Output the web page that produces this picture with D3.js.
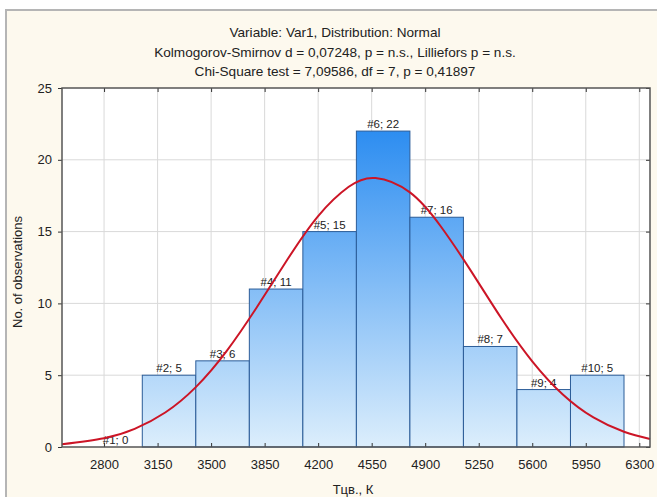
<!DOCTYPE html>
<meta charset="utf-8">

<head>
  <title>Histogram Var1</title>
  <style>
    body {
      margin: 0;
      background: #ffffff;
    }
    svg text {
      font-family: "Liberation Sans", Arial, sans-serif;
      fill: #222;
    }
  </style>

  <script src="https://d3js.org/d3.v7.min.js"></script>
</head>

<body>
  <div id="content">
    <svg width="657" height="497"></svg>
  </div>

  <script>
    // data
    var titleLines = [
      'Variable: Var1, Distribution: Normal',
      'Kolmogorov-Smirnov d = 0,07248, p = n.s., Lilliefors p = n.s.',
      'Chi-Square test = 7,09586, df = 7, p = 0,41897'
    ];
    var binEdges = [2700, 3050, 3400, 3750, 4100, 4450, 4800, 5150, 5500, 5850, 6200];
    var counts = [0, 5, 6, 11, 15, 22, 16, 7, 4, 5];
    var xTicks = [2800, 3150, 3500, 3850, 4200, 4550, 4900, 5250, 5600, 5950, 6300];
    var yTicks = [0, 5, 10, 15, 20, 25];
    // expected normal curve, points estimated from the red line
    var curveX = [2525, 2800, 3000, 3200, 3400, 3600, 3800, 4000, 4200, 4400, 4575,
      4800, 5000, 5200, 5400, 5600, 5800, 6000, 6200, 6370];
    var curveY = [0.19, 0.61, 1.26, 2.40, 4.17, 6.66, 9.75, 13.07, 16.08, 18.12, 18.73,
      17.73, 15.39, 12.25, 8.93, 5.97, 3.66, 2.06, 1.06, 0.56];
    var xLabel = 'Tцв., К';
    var yLabel = 'No. of observations';

    var svg = d3.select('#content svg');
    var pLeft = 62, pTop = 88, pRight = 650, pBottom = 447;

    var x = d3.scaleLinear().domain([2525, 6370]).range([pLeft, pRight]);
    var y = d3.scaleLinear().domain([0, 25]).range([pBottom, pTop]);

    // gradient for bars, spans the whole plot height
    var grad = svg.append('defs').append('linearGradient')
      .attr('id', 'barGrad')
      .attr('gradientUnits', 'userSpaceOnUse')
      .attr('x1', 0).attr('x2', 0)
      .attr('y1', pTop).attr('y2', pBottom);
    grad.append('stop').attr('offset', '0%').attr('stop-color', '#1580ef');
    grad.append('stop').attr('offset', '100%').attr('stop-color', '#dceefc');

    // panel
    svg.append('rect')
      .attr('x', 6).attr('y', 10)
      .attr('width', 670).attr('height', 500)
      .attr('fill', '#fdf9ee')
      .attr('stroke', '#b5b5b5')
      .attr('stroke-width', 2);

    // plot area
    svg.append('rect')
      .attr('x', pLeft).attr('y', pTop)
      .attr('width', pRight - pLeft).attr('height', pBottom - pTop)
      .attr('fill', '#ffffff');

    // grid
    svg.append('g').selectAll('line')
      .data(xTicks)
      .join('line')
      .attr('x1', d => x(d)).attr('x2', d => x(d))
      .attr('y1', pTop).attr('y2', pBottom)
      .attr('stroke', '#d9d9d9');
    svg.append('g').selectAll('line')
      .data(yTicks.slice(1, -1))
      .join('line')
      .attr('x1', pLeft).attr('x2', pRight)
      .attr('y1', d => y(d)).attr('y2', d => y(d))
      .attr('stroke', '#d9d9d9');

    // bars
    var bins = counts.map(function (c, i) {
      return { i: i, n: c, x0: binEdges[i], x1: binEdges[i + 1] };
    });
    svg.append('g').selectAll('rect')
      .data(bins.filter(d => d.n > 0))
      .join('rect')
      .attr('x', d => x(d.x0))
      .attr('y', d => y(d.n))
      .attr('width', d => x(d.x1) - x(d.x0))
      .attr('height', d => y(0) - y(d.n))
      .attr('fill', 'url(#barGrad)')
      .attr('stroke', '#2b5c98')
      .attr('stroke-width', 1);

    svg.append('g').selectAll('text')
      .data(bins)
      .join('text')
      .attr('x', d => x((d.x0 + d.x1) / 2))
      .attr('y', d => y(d.n) - 3)
      .attr('text-anchor', 'middle')
      .style('font-size', '11.5px')
      .text(d => '#' + (d.i + 1) + '; ' + d.n);

    // normal curve
    var line = d3.line()
      .x(d => x(d[0]))
      .y(d => y(d[1]))
      .curve(d3.curveNatural);
    svg.append('path')
      .datum(curveX.map((v, i) => [v, curveY[i]]))
      .attr('d', line)
      .attr('fill', 'none')
      .attr('stroke', '#cc1526')
      .attr('stroke-width', 2);

    // axes
    var fmt = d3.format('d');
    var xAxis = svg.append('g')
      .attr('transform', 'translate(0,' + pBottom + ')')
      .call(d3.axisBottom(x).tickValues(xTicks).tickFormat(fmt).tickSize(-4).tickPadding(13));
    var xTop = svg.append('g')
      .attr('transform', 'translate(0,' + pTop + ')')
      .call(d3.axisTop(x).tickValues(xTicks).tickSize(-4).tickFormat(''));
    var yAxis = svg.append('g')
      .attr('transform', 'translate(' + pLeft + ',0)')
      .call(d3.axisLeft(y).tickValues(yTicks).tickFormat(fmt).tickSize(4).tickPadding(6));
    var yRight = svg.append('g')
      .attr('transform', 'translate(' + pRight + ',0)')
      .call(d3.axisRight(y).tickValues(yTicks).tickSize(-4).tickFormat(''));

    [xAxis, xTop, yAxis, yRight].forEach(function (a) {
      a.select('.domain').remove();
      a.selectAll('line').attr('stroke', '#333');
      a.selectAll('text').style('font-size', '13px').attr('fill', '#222');
    });

    // frame
    svg.append('rect')
      .attr('x', pLeft).attr('y', pTop)
      .attr('width', pRight - pLeft).attr('height', pBottom - pTop)
      .attr('fill', 'none')
      .attr('stroke', '#555')
      .attr('stroke-width', 1.5);

    // titles
    svg.append('g').selectAll('text')
      .data(titleLines)
      .join('text')
      .attr('x', 335)
      .attr('y', (d, i) => 37 + i * 19.5)
      .attr('text-anchor', 'middle')
      .style('font-size', '13.6px')
      .text(d => d);

    svg.append('text')
      .attr('x', 353).attr('y', 494)
      .attr('text-anchor', 'middle')
      .style('font-size', '13px')
      .text(xLabel);

    svg.append('text')
      .attr('transform', 'translate(22,272) rotate(-90)')
      .attr('text-anchor', 'middle')
      .style('font-size', '13px')
      .text(yLabel);
  </script>
</body>

</html>
